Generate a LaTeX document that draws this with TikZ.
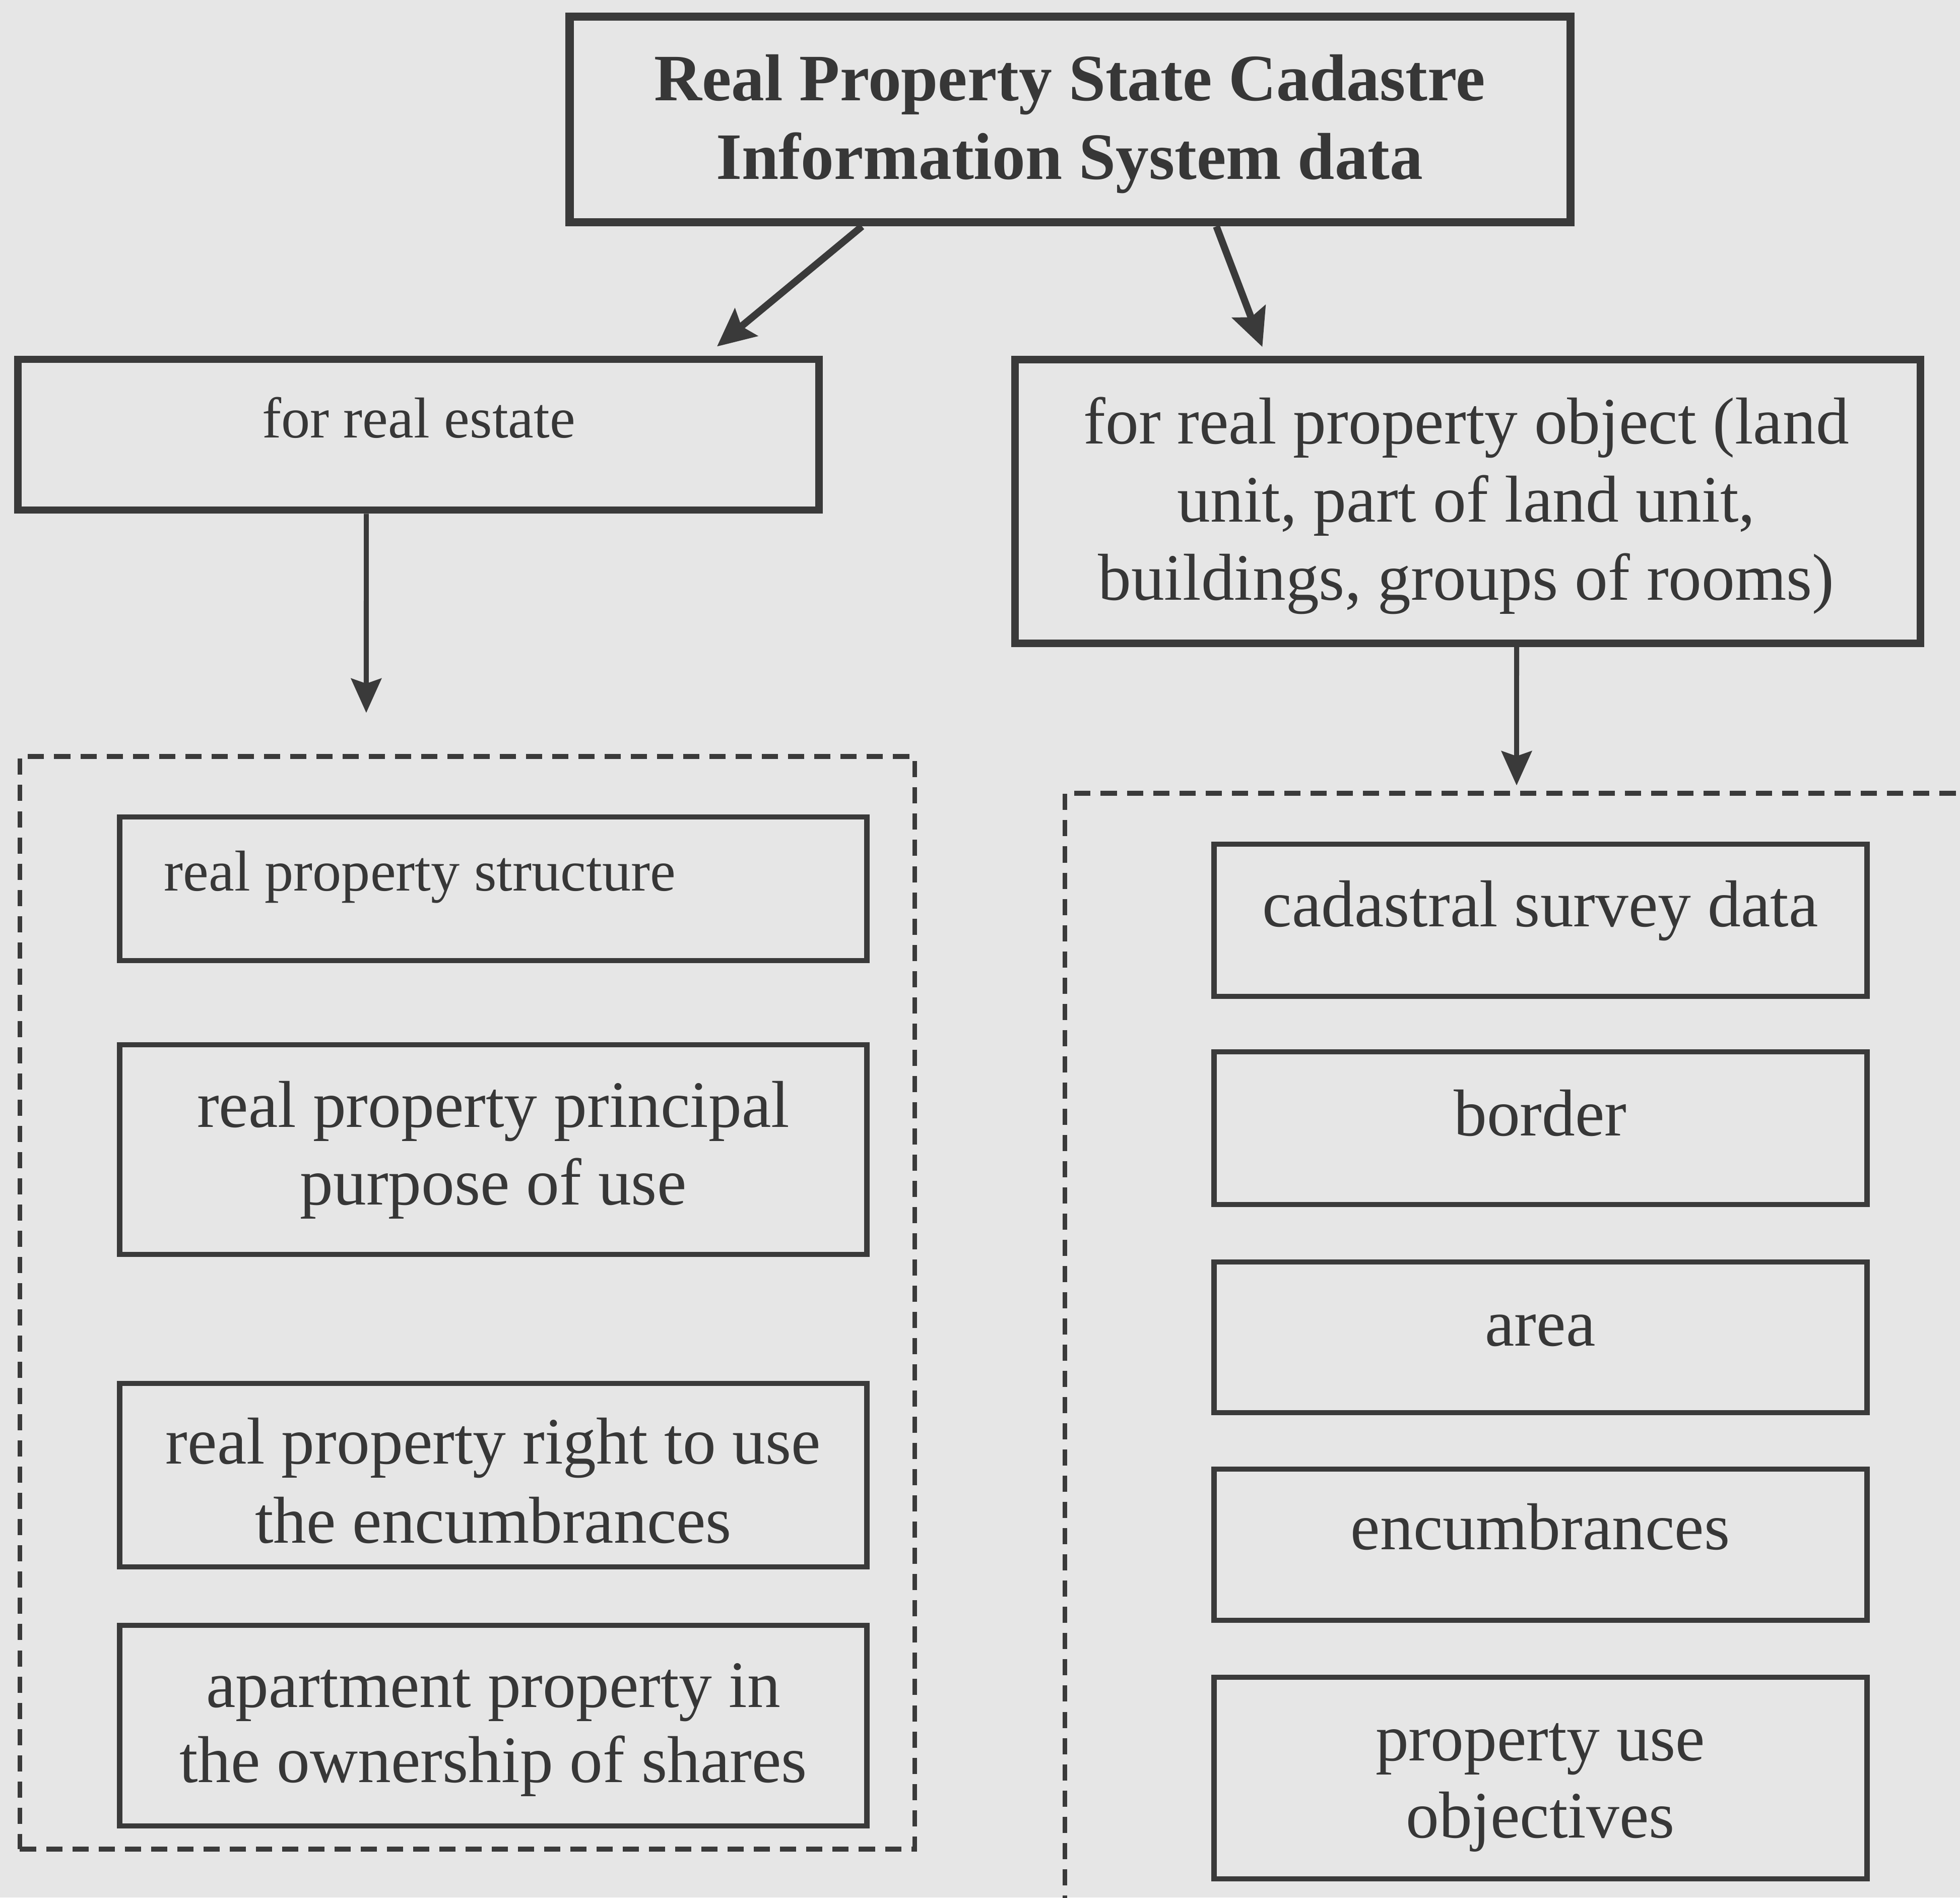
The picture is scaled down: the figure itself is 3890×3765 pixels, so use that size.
\documentclass[tikz,border=0pt]{standalone}
\usepackage{fontspec}
\setmainfont{Liberation Serif}
\usetikzlibrary{arrows.meta}
\definecolor{linecol}{RGB}{58,58,58}
\definecolor{textcol}{RGB}{55,55,55}
\definecolor{bgcol}{RGB}{230,230,230}
\tikzset{
  topbox/.style={draw=linecol, line width=4.2pt, rectangle, inner sep=0pt},
  titlebox/.style={draw=linecol, line width=4.6pt, rectangle, inner sep=0pt},
  itembox/.style={draw=linecol, line width=3pt, rectangle, inner sep=0pt},
  groupbox/.style={draw=linecol, line width=2.8pt, rectangle, inner sep=0pt, dash pattern=on 0.32cm off 0.2cm},
  txt/.style={text=textcol, inner sep=0pt, anchor=base, font=\fontsize{37.4pt}{44pt}\selectfont},
  smalltxt/.style={text=textcol, inner sep=0pt, anchor=base, font=\fontsize{32.5pt}{40pt}\selectfont},
  titletxt/.style={text=textcol, inner sep=0pt, anchor=base, font=\fontsize{37.4pt}{44pt}\selectfont\bfseries},
  thickarr/.style={draw=linecol, line width=4pt, -{Stealth[length=0.75cm, width=0.7cm, inset=0.12cm]}},
  thinarr/.style={draw=linecol, line width=2.8pt, -{Stealth[length=0.68cm, width=0.6cm, inset=0.1cm]}}
}
\begin{document}
\begin{tikzpicture}[x=0.01cm, y=-0.01cm]
\useasboundingbox (0,0) rectangle (3890,3765);
\clip (0,0) rectangle (3890,3765);
\fill[bgcol] (0,0) rectangle (3890,3765);

% top level boxes
\node[titlebox, minimum width=19.85cm, minimum height=4.08cm] (title) at (2123.5,237) {};
\node[topbox, minimum width=15.89cm, minimum height=2.99cm] (re) at (830.5,862.5) {};
\node[topbox, minimum width=17.96cm, minimum height=5.62cm] (ro) at (2913,995) {};

% dashed groups
\node[groupbox, minimum width=17.75cm, minimum height=21.66cm] (ld) at (927.5,2585) {};
\node[groupbox, minimum width=18.36cm, minimum height=22.55cm] (rd) at (3032,2702.5) {};

% left items
\node[itembox, minimum width=14.82cm, minimum height=2.85cm] (l1) at (979,1763.5) {};
\node[itembox, minimum width=14.82cm, minimum height=4.16cm] (l2) at (979,2281) {};
\node[itembox, minimum width=14.82cm, minimum height=3.64cm] (l3) at (979,2927) {};
\node[itembox, minimum width=14.82cm, minimum height=3.98cm] (l4) at (979,3424) {};

% right items
\node[itembox, minimum width=12.95cm, minimum height=3.02cm] (r1) at (3057.5,1826) {};
\node[itembox, minimum width=12.95cm, minimum height=3.03cm] (r2) at (3057.5,2238.5) {};
\node[itembox, minimum width=12.95cm, minimum height=2.99cm] (r3) at (3057.5,2653.5) {};
\node[itembox, minimum width=12.95cm, minimum height=3.00cm] (r4) at (3057.5,3065) {};
\node[itembox, minimum width=12.95cm, minimum height=4.00cm] (r5) at (3057.5,3528) {};

% texts
\node[titletxt] (tt1) at (2123,199) {Real Property State Cadastre};
\node[titletxt] (tt2) at (2123,355) {Information System data};
\node[smalltxt] (ret) at (831,868) {for real estate};
\node[txt] (rot1) at (2910,880) {for real property object (land};
\node[txt] (rot2) at (2910,1035) {unit, part of land unit,};
\node[txt] (rot3) at (2910,1190) {buildings, groups of rooms)};
\node[smalltxt, anchor=base west] (l1t) at (325,1767) {real property structure};
\node[txt] (l2a) at (979,2236) {real property principal};
\node[txt] (l2b) at (979,2390) {purpose of use};
\node[txt] (l3a) at (979,2904) {real property right to use};
\node[txt] (l3b) at (979,3061) {the encumbrances};
\node[txt] (l4a) at (979,3387) {apartment property in};
\node[txt] (l4b) at (979,3536) {the ownership of shares};
\node[txt] (r1t) at (3057,1838) {cadastral survey data};
\node[txt] (r2t) at (3057,2253) {border};
\node[txt] (r3t) at (3057,2670) {area};
\node[txt] (r4t) at (3057,3074) {encumbrances};
\node[txt] (r5a) at (3057,3493) {property use};
\node[txt] (r5b) at (3057,3646) {objectives};

% connectors
\draw[thickarr] ([xshift=5.88cm]title.south west) -- ([xshift=13.94cm,yshift=0.18cm]re.north west);
\draw[thickarr] ([xshift=12.91cm]title.south west) -- ([xshift=4.98cm,yshift=0.18cm]ro.north west);
\draw[thinarr] ([xshift=-1.035cm]re.south) -- ([xshift=-2.005cm,yshift=0.82cm]ld.north);
\draw[thinarr] ([xshift=0.97cm]ro.south) -- ([xshift=-0.22cm,yshift=0.11cm]rd.north);
\end{tikzpicture}
\end{document}
